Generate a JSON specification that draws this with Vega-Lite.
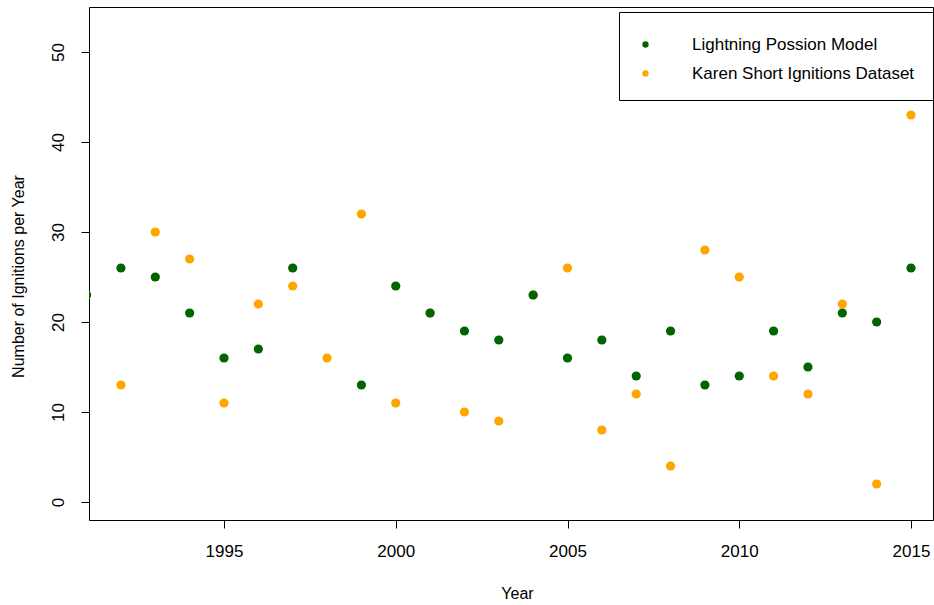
{
  "$schema": "https://vega.github.io/schema/vega-lite/v6.json",
  "width": 844,
  "height": 513,
  "autosize": {"type": "none"},
  "padding": {"left": 89, "top": 7, "right": 1, "bottom": 85},
  "background": "white",
  "config": {
    "font": "Liberation Sans",
    "view": {"stroke": "black", "strokeWidth": 1},
    "axis": {
      "grid": false,
      "domain": false,
      "tickColor": "black",
      "tickSize": 8,
      "labelFont": "Liberation Sans",
      "labelFontSize": 17,
      "labelColor": "black",
      "titleFont": "Liberation Sans",
      "titleFontSize": 16,
      "titleFontWeight": "normal",
      "titleColor": "black"
    }
  },
  "data": {
    "values": [
      {"year": 1991, "ignitions": 23, "source": "Karen Short Ignitions Dataset"},
      {"year": 1992, "ignitions": 13, "source": "Karen Short Ignitions Dataset"},
      {"year": 1993, "ignitions": 30, "source": "Karen Short Ignitions Dataset"},
      {"year": 1994, "ignitions": 27, "source": "Karen Short Ignitions Dataset"},
      {"year": 1995, "ignitions": 11, "source": "Karen Short Ignitions Dataset"},
      {"year": 1996, "ignitions": 22, "source": "Karen Short Ignitions Dataset"},
      {"year": 1997, "ignitions": 24, "source": "Karen Short Ignitions Dataset"},
      {"year": 1998, "ignitions": 16, "source": "Karen Short Ignitions Dataset"},
      {"year": 1999, "ignitions": 32, "source": "Karen Short Ignitions Dataset"},
      {"year": 2000, "ignitions": 11, "source": "Karen Short Ignitions Dataset"},
      {"year": 2001, "ignitions": 21, "source": "Karen Short Ignitions Dataset"},
      {"year": 2002, "ignitions": 10, "source": "Karen Short Ignitions Dataset"},
      {"year": 2003, "ignitions": 9, "source": "Karen Short Ignitions Dataset"},
      {"year": 2004, "ignitions": 23, "source": "Karen Short Ignitions Dataset"},
      {"year": 2005, "ignitions": 26, "source": "Karen Short Ignitions Dataset"},
      {"year": 2006, "ignitions": 8, "source": "Karen Short Ignitions Dataset"},
      {"year": 2007, "ignitions": 12, "source": "Karen Short Ignitions Dataset"},
      {"year": 2008, "ignitions": 4, "source": "Karen Short Ignitions Dataset"},
      {"year": 2009, "ignitions": 28, "source": "Karen Short Ignitions Dataset"},
      {"year": 2010, "ignitions": 25, "source": "Karen Short Ignitions Dataset"},
      {"year": 2011, "ignitions": 14, "source": "Karen Short Ignitions Dataset"},
      {"year": 2012, "ignitions": 12, "source": "Karen Short Ignitions Dataset"},
      {"year": 2013, "ignitions": 22, "source": "Karen Short Ignitions Dataset"},
      {"year": 2014, "ignitions": 2, "source": "Karen Short Ignitions Dataset"},
      {"year": 2015, "ignitions": 43, "source": "Karen Short Ignitions Dataset"},
      {"year": 1991, "ignitions": 23, "source": "Lightning Possion Model"},
      {"year": 1992, "ignitions": 26, "source": "Lightning Possion Model"},
      {"year": 1993, "ignitions": 25, "source": "Lightning Possion Model"},
      {"year": 1994, "ignitions": 21, "source": "Lightning Possion Model"},
      {"year": 1995, "ignitions": 16, "source": "Lightning Possion Model"},
      {"year": 1996, "ignitions": 17, "source": "Lightning Possion Model"},
      {"year": 1997, "ignitions": 26, "source": "Lightning Possion Model"},
      {"year": 1999, "ignitions": 13, "source": "Lightning Possion Model"},
      {"year": 2000, "ignitions": 24, "source": "Lightning Possion Model"},
      {"year": 2001, "ignitions": 21, "source": "Lightning Possion Model"},
      {"year": 2002, "ignitions": 19, "source": "Lightning Possion Model"},
      {"year": 2003, "ignitions": 18, "source": "Lightning Possion Model"},
      {"year": 2004, "ignitions": 23, "source": "Lightning Possion Model"},
      {"year": 2005, "ignitions": 16, "source": "Lightning Possion Model"},
      {"year": 2006, "ignitions": 18, "source": "Lightning Possion Model"},
      {"year": 2007, "ignitions": 14, "source": "Lightning Possion Model"},
      {"year": 2008, "ignitions": 19, "source": "Lightning Possion Model"},
      {"year": 2009, "ignitions": 13, "source": "Lightning Possion Model"},
      {"year": 2010, "ignitions": 14, "source": "Lightning Possion Model"},
      {"year": 2011, "ignitions": 19, "source": "Lightning Possion Model"},
      {"year": 2012, "ignitions": 15, "source": "Lightning Possion Model"},
      {"year": 2013, "ignitions": 21, "source": "Lightning Possion Model"},
      {"year": 2014, "ignitions": 20, "source": "Lightning Possion Model"},
      {"year": 2015, "ignitions": 26, "source": "Lightning Possion Model"}
    ]
  },
  "mark": {"type": "point", "shape": "circle", "filled": true, "opacity": 1, "size": 85, "clip": true},
  "encoding": {
    "x": {
      "field": "year",
      "type": "quantitative",
      "scale": {"domain": [1991.07, 2015.64], "nice": false, "zero": false},
      "axis": {
        "title": "Year",
        "values": [1995, 2000, 2005, 2010, 2015],
        "format": "d",
        "labelPadding": 15,
        "labelFlush": false,
        "titleX": 428,
        "titleY": 73,
        "titleBaseline": "middle"
      }
    },
    "y": {
      "field": "ignitions",
      "type": "quantitative",
      "scale": {"domain": [-2, 55], "nice": false, "zero": false},
      "axis": {
        "title": "Number of Ignitions per Year",
        "values": [0, 10, 20, 30, 40, 50],
        "labelAngle": -90,
        "labelAlign": "center",
        "labelBaseline": "bottom",
        "labelPadding": 14,
        "labelFlush": false,
        "titleX": -71,
        "titleY": 269,
        "titleAngle": -90,
        "titleBaseline": "middle",
        "titleAlign": "center"
      }
    },
    "color": {
      "field": "source",
      "type": "nominal",
      "sort": null,
      "scale": {
        "domain": ["Lightning Possion Model", "Karen Short Ignitions Dataset"],
        "range": ["#006400", "#FFA500"]
      },
      "legend": {
        "title": " ",
        "titleFontSize": 2,
        "titlePadding": 4,
        "orient": "none",
        "legendX": 530,
        "legendY": 5,
        "fillColor": "white",
        "strokeColor": "black",
        "padding": 18,
        "cornerRadius": 0,
        "symbolType": "circle",
        "symbolSize": 40,
        "symbolStrokeWidth": 0,
        "labelFont": "Liberation Sans",
        "labelFontSize": 17,
        "labelColor": "black",
        "labelOffset": 38,
        "labelLimit": 400,
        "rowPadding": 11
      }
    }
  }
}
